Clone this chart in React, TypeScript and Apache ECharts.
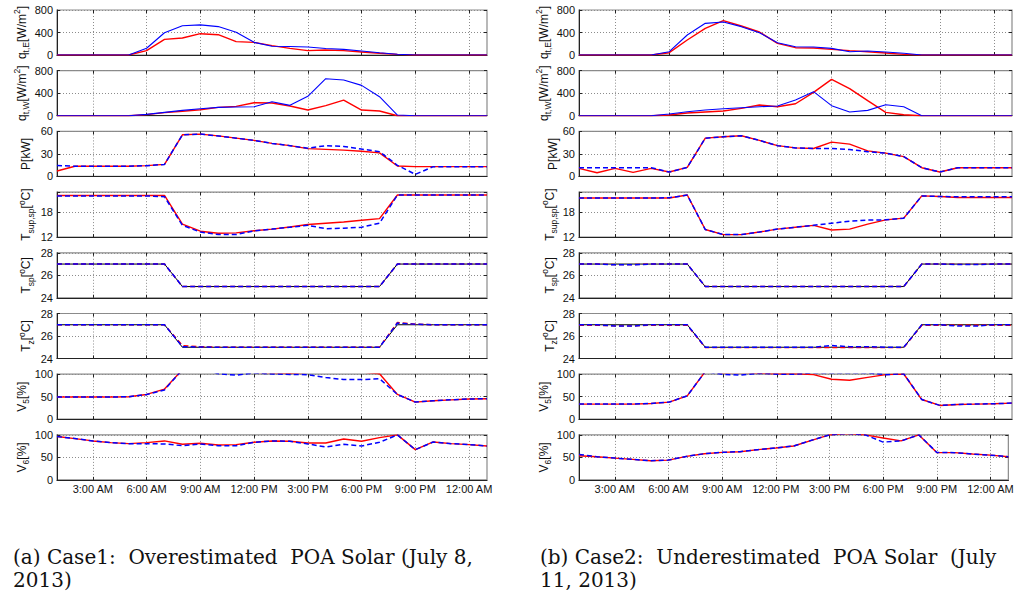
import React, { useEffect, useRef } from 'react';
import * as echarts from 'echarts';

// ---------- data ----------
const HOURS = [1, 2, 3, 4, 5, 6, 7, 8, 9, 10, 11, 12, 13, 14, 15, 16, 17, 18, 19, 20, 21, 22, 23, 24, 25];
const TICK_HOURS = [3, 6, 9, 12, 15, 18, 21, 24];
const TICK_LABELS = ['3:00 AM', '6:00 AM', '9:00 AM', '12:00 PM', '3:00 PM', '6:00 PM', '9:00 PM', '12:00 AM'];

// Case 1 (left column)
const QE_RED_1 = [0, 0, 0, 0, 0, 77, 278, 302, 379, 361, 237, 225, 166, 118, 77, 89, 77, 53, 30, 12, 0, 0, 0, 0, 0];
const QE_BLUE_1 = [0, 0, 0, 0, 0, 120, 395, 520, 535, 505, 405, 225, 155, 150, 142, 115, 100, 72, 40, 12, 0, 0, 0, 0, 0];
const QW_RED_1 = [0, 0, 0, 0, 0, 20, 55, 80, 107, 148, 166, 231, 225, 172, 101, 178, 278, 101, 83, 0, 0, 0, 0, 0, 0];
const QW_BLUE_1 = [0, 0, 0, 0, 0, 24, 59, 95, 124, 148, 154, 160, 249, 184, 344, 658, 634, 539, 338, 12, 0, 0, 0, 0, 0];
const P_RED_1 = [7.2, 13.5, 13.5, 13.5, 13.6, 14.3, 16, 55.5, 56.4, 54, 51, 48, 44, 41, 37, 36, 35, 33.6, 31.3, 13.9, 13, 13, 13, 13, 13];
const P_BLUE_1 = [14.5, 13.5, 13.5, 13.5, 13.6, 14.3, 16, 55.5, 56.4, 54, 51, 48, 44, 41, 37.6, 41, 40, 36.4, 33, 14.8, 2.7, 13, 13, 13, 13];
const TSUP_RED_1 = [21.9, 21.9, 21.9, 21.9, 21.9, 21.9, 21.9, 15.1, 13.4, 12.9, 13.0, 13.5, 13.9, 14.4, 15.0, 15.3, 15.6, 16.0, 16.4, 22.0, 22, 22, 22, 22, 22];
const TSUP_BLUE_1 = [21.8, 21.8, 21.8, 21.8, 21.8, 21.8, 21.6, 14.8, 13.2, 12.6, 12.6, 13.5, 13.9, 14.35, 14.8, 14.0, 14.1, 14.35, 15.3, 22.0, 22, 22, 22, 22, 22];
const TSP_BLACK_1 = [27, 27, 27, 27, 27, 27, 27, 25, 25, 25, 25, 25, 25, 25, 25, 25, 25, 25, 25, 27, 27, 27, 27, 27, 27];
const TSP_RED_1 = [27, 27, 27, 27, 27, 27, 27, 25, 25, 25, 25, 25, 25, 25, 25, 25, 25, 25, 25, 27, 27, 27, 27, 27, 27];
const TSP_BLUE_1 = [27, 27, 27, 27, 27, 27, 27, 25, 25, 25, 25, 25, 25, 25, 25, 25, 25, 25, 25, 27, 27, 27, 27, 27, 27];
const TZ_BLACK_1 = [27, 27, 27, 27, 27, 27, 27, 25, 25, 25, 25, 25, 25, 25, 25, 25, 25, 25, 25, 27, 27, 27, 27, 27, 27];
const TZ_RED_1 = [27, 27, 27, 27, 27, 27, 27, 25.15, 25.05, 25, 25, 25, 25, 25, 25, 25, 25, 25, 25, 27.2, 27.05, 27, 27, 27, 27];
const TZ_BLUE_1 = [27, 27, 27, 27, 27, 27, 27, 25.05, 25.02, 25, 25, 25, 25, 25, 25, 25, 25, 25, 25, 27.15, 27.05, 27, 27, 27, 27];
const V5_RED_1 = [49.3, 49.3, 49.3, 49.3, 50, 55, 67, 110, 115, 108, 106, 104, 103, 102, 104, 106, 106, 105, 101, 55, 38, 41, 43, 45, 45.5];
const V5_BLUE_1 = [49.3, 49.3, 49.3, 49.3, 50, 55, 65, 110, 115, 101, 98, 103, 100.5, 99.5, 99, 92.5, 88, 88, 90, 55, 38, 41, 43, 45, 45.5];
const V6_RED_1 = [96.3, 91.8, 86.6, 82.8, 80.6, 82.8, 86.6, 79.1, 81.3, 77.6, 78.4, 83.6, 86.6, 85.8, 82, 82, 91, 85.8, 94, 100, 67.2, 84.3, 80.6, 78.4, 75.4];
const V6_BLUE_1 = [96.3, 91.8, 86.6, 82.8, 80.6, 80.6, 79.9, 76, 80, 76, 76, 83.6, 86.6, 85.8, 80, 73, 79, 75.4, 83.6, 100, 67.2, 84.3, 80.6, 78.4, 75.4];

// Case 2 (right column)
const QE_RED_2 = [0, 0, 0, 0, 0, 41, 267, 474, 610, 516, 409, 207, 130, 124, 100, 77, 59, 36, 12, 0, 0, 0, 0, 0, 0];
const QE_BLUE_2 = [0, 0, 0, 0, 0, 59, 356, 563, 587, 504, 397, 219, 148, 142, 118, 59, 71, 53, 30, 0, 0, 0, 0, 0, 0];
const QW_RED_2 = [0, 0, 0, 0, 0, 12, 47, 65, 83, 130, 190, 160, 213, 415, 646, 480, 267, 59, 18, 0, 0, 0, 0, 0, 0];
const QW_BLUE_2 = [0, 0, 0, 0, 0, 30, 71, 101, 124, 142, 160, 172, 278, 427, 178, 65, 95, 196, 160, 0, 0, 0, 0, 0, 0];
const P_RED_2 = [10.7, 4.9, 10.7, 5.4, 10.7, 5.8, 12, 51, 52.8, 54.2, 48, 41, 38, 37.2, 45.7, 43, 34, 31, 26.4, 11.6, 5.8, 11.6, 11.6, 11.6, 11.6];
const P_BLUE_2 = [11.6, 11.6, 11.6, 11.6, 11.6, 5.8, 12, 51, 52.8, 54.2, 48, 41, 38, 37.2, 37.2, 35.8, 33, 31, 26.4, 11.6, 5.8, 11.6, 11.6, 11.6, 11.6];
const TSUP_RED_2 = [21.3, 21.3, 21.3, 21.3, 21.3, 21.3, 22.0, 13.8, 12.6, 12.6, 13.2, 13.9, 14.35, 14.8, 13.7, 13.9, 15.1, 16.1, 16.5, 21.8, 21.65, 21.4, 21.4, 21.4, 21.4];
const TSUP_BLUE_2 = [21.3, 21.3, 21.3, 21.3, 21.3, 21.35, 22.0, 13.8, 12.6, 12.6, 13.2, 13.9, 14.35, 14.8, 15.3, 15.8, 16.05, 16.1, 16.5, 21.8, 21.65, 21.6, 21.6, 21.6, 21.6];
const TSP_BLACK_2 = [27, 27, 27, 27, 27, 27, 27, 25, 25, 25, 25, 25, 25, 25, 25, 25, 25, 25, 25, 27, 27, 27, 27, 27, 27];
const TSP_RED_2 = [27, 27, 26.95, 26.95, 27, 27, 27, 25, 25, 25, 25, 25, 25, 25, 25, 25, 25, 25, 25, 27, 27, 26.97, 26.97, 27, 27];
const TSP_BLUE_2 = [27, 27, 26.93, 26.93, 27, 27, 27, 25, 25, 25, 25, 25, 25, 25, 25, 25, 25, 25, 25, 27, 27, 26.95, 26.95, 27, 27];
const TZ_BLACK_2 = [27, 27, 27, 27, 27, 27, 27, 25, 25, 25, 25, 25, 25, 25, 25, 25, 25, 25, 25, 27, 27, 27, 27, 27, 27];
const TZ_RED_2 = [26.95, 26.95, 26.9, 26.9, 26.95, 26.95, 26.95, 24.97, 24.97, 24.97, 24.97, 24.97, 24.97, 24.97, 24.97, 24.97, 24.97, 24.97, 24.97, 26.95, 26.95, 26.95, 26.95, 26.95, 26.95];
const TZ_BLUE_2 = [27, 27, 26.88, 26.88, 27, 27, 27, 25, 25, 25, 25, 25, 25, 25, 25.15, 25.05, 25.05, 25, 25, 27, 27, 26.88, 26.88, 27, 27];
const V5_RED_2 = [33.6, 33.6, 33.6, 33.6, 35, 38, 52, 106, 103, 104, 102, 101, 101, 99, 88.8, 86.6, 93, 99, 100.5, 43.7, 30.6, 32.8, 33.6, 34.3, 35.8];
const V5_BLUE_2 = [33.6, 33.6, 33.6, 33.6, 35, 38, 52, 106, 99.5, 98, 102, 100, 100, 103, 103, 103, 103, 99, 101, 43.7, 30.6, 32.8, 33.6, 34.3, 35.8];
const V6_RED_2 = [53.7, 51.5, 48.5, 45.5, 42.5, 44, 52.2, 58.2, 61.2, 62.7, 67.2, 70.9, 75.4, 88, 100, 103, 100, 93, 86.6, 100, 61, 60.5, 57.5, 55, 51.5];
const V6_BLUE_2 = [56.7, 51.5, 48.5, 45.5, 42.5, 44, 52.2, 58.2, 61.2, 62.7, 67.2, 70.9, 75.4, 88, 100, 103, 100, 84, 86.6, 100, 61, 60.5, 57.5, 55, 51.5];

const CAPTION_A = ['(a) Case1:  Overestimated  POA Solar (July 8,', '2013)'];
const CAPTION_B = ['(b) Case2:  Underestimated  POA Solar  (July', '11, 2013)'];

// ---------- styles ----------
const RED_SOLID = { color: '#ff0000', width: 1.4, type: 'solid' };
const BLUE_SOLID = { color: '#0000ff', width: 1.1, type: 'solid' };
const BLUE_DASH = { color: '#0000ff', width: 1.5, type: [5, 3] };
const RED_DASH = { color: '#ff0000', width: 1.4, type: [5, 3] };
const BLACK_SOLID = { color: '#000000', width: 1, type: 'solid' };

const PANELS = [
  { name: '{n|q}{sub|t,E}{n|[W/m}{sup|2}{n|]}', min: 0, max: 800, interval: 400 },
  { name: '{n|q}{sub|t,W}{n|[W/m}{sup|2}{n|]}', min: 0, max: 800, interval: 400 },
  { name: '{n|P[kW]}', min: 0, max: 60, interval: 30 },
  { name: '{n|T}{sub|sup,sp}{n|[}{sup|o}{n|C]}', min: 12, max: 22.7, interval: 6 },
  { name: '{n|T}{sub|sp}{n|[}{sup|o}{n|C]}', min: 24, max: 28, interval: 2 },
  { name: '{n|T}{sub|z}{n|[}{sup|o}{n|C]}', min: 24, max: 28, interval: 2 },
  { name: '{n|V}{sub|5}{n|[%]}', min: 0, max: 100, interval: 50 },
  { name: '{n|V}{sub|6}{n|[%]}', min: 0, max: 100, interval: 50 },
];

const COLUMNS = [
  {
    left: 57, width: 430, nameGap: 22,
    panels: [
      [[QE_RED_1, RED_SOLID], [QE_BLUE_1, BLUE_SOLID]],
      [[QW_RED_1, RED_SOLID], [QW_BLUE_1, BLUE_SOLID]],
      [[P_RED_1, RED_SOLID], [P_BLUE_1, BLUE_DASH]],
      [[TSUP_RED_1, RED_SOLID], [TSUP_BLUE_1, BLUE_DASH]],
      [[TSP_BLACK_1, BLACK_SOLID], [TSP_RED_1, RED_DASH], [TSP_BLUE_1, BLUE_DASH]],
      [[TZ_BLACK_1, BLACK_SOLID], [TZ_RED_1, RED_DASH], [TZ_BLUE_1, BLUE_DASH]],
      [[V5_RED_1, RED_SOLID], [V5_BLUE_1, BLUE_DASH]],
      [[V6_RED_1, RED_SOLID], [V6_BLUE_1, BLUE_DASH]],
    ],
  },
  {
    left: 579, width: 433, nameGap: 17,
    panels: [
      [[QE_RED_2, RED_SOLID], [QE_BLUE_2, BLUE_SOLID]],
      [[QW_RED_2, RED_SOLID], [QW_BLUE_2, BLUE_SOLID]],
      [[P_RED_2, RED_SOLID], [P_BLUE_2, BLUE_DASH]],
      [[TSUP_RED_2, RED_SOLID], [TSUP_BLUE_2, BLUE_DASH]],
      [[TSP_BLACK_2, BLACK_SOLID], [TSP_RED_2, RED_DASH], [TSP_BLUE_2, BLUE_DASH]],
      [[TZ_BLACK_2, BLACK_SOLID], [TZ_RED_2, RED_DASH], [TZ_BLUE_2, BLUE_DASH]],
      [[V5_RED_2, RED_SOLID], [V5_BLUE_2, BLUE_DASH]],
      [[V6_RED_2, RED_SOLID], [V6_BLUE_2, BLUE_DASH]],
    ],
  },
];

const PANEL_TOP0 = 10;
const PANEL_STEP = 60.7;
const PANEL_H = 45;

const SANS = '"Liberation Sans", Arial, Helvetica, sans-serif';

function buildOption() {
  const grid: any[] = [];
  const xAxis: any[] = [];
  const yAxis: any[] = [];
  const series: any[] = [];

  COLUMNS.forEach((col, ci) => {
    PANELS.forEach((p, pi) => {
      const g = ci * PANELS.length + pi;
      const isBottom = pi === PANELS.length - 1;
      grid.push({
        left: col.left,
        top: PANEL_TOP0 + pi * PANEL_STEP,
        width: col.width,
        height: PANEL_H,
        show: true,
        borderColor: '#8a8a8a',
        borderWidth: 1.2,
        backgroundColor: '#ffffff',
        containLabel: false,
      });
      xAxis.push({
        type: 'value',
        gridIndex: g,
        min: 1,
        max: 25,
        position: 'bottom',
        axisLine: { show: true, onZero: false, lineStyle: { color: '#222', width: 1 } },
        axisTick: { show: true, inside: true, length: 3, customValues: TICK_HOURS, lineStyle: { color: '#222' } },
        axisLabel: {
          show: isBottom,
          customValues: TICK_HOURS,
          formatter: (v: number) => {
            const idx = TICK_HOURS.indexOf(v);
            return idx >= 0 ? TICK_LABELS[idx] : '';
          },
          fontFamily: SANS,
          fontSize: 11,
          color: '#111',
          margin: 4,
        },
        splitLine: { show: true, lineStyle: { color: '#8c8c8c', type: [1, 2], width: 1 } },
      });
      xAxis.push({
        type: 'value',
        gridIndex: g,
        min: 1,
        max: 25,
        position: 'top',
        axisLine: { show: false, onZero: false },
        axisTick: { show: true, inside: true, length: 3, customValues: TICK_HOURS, lineStyle: { color: '#222' } },
        axisLabel: { show: false, customValues: TICK_HOURS },
        splitLine: { show: false },
      });
      yAxis.push({
        type: 'value',
        gridIndex: g,
        min: p.min,
        max: p.max,
        interval: p.interval,
        position: 'left',
        name: p.name,
        nameLocation: 'middle',
        nameRotate: 90,
        nameGap: col.nameGap + (pi === 0 || pi === 1 ? 3 : 0),
        nameTextStyle: {
          fontFamily: SANS,
          color: '#111',
          rich: {
            n: { fontFamily: SANS, fontSize: 12, lineHeight: 18, color: '#111' },
            sub: { fontFamily: SANS, fontSize: 8.5, lineHeight: 9, verticalAlign: 'bottom', color: '#111' },
            sup: { fontFamily: SANS, fontSize: 8.5, lineHeight: 9, verticalAlign: 'top', color: '#111' },
          },
        },
        axisLine: { show: true, onZero: false, lineStyle: { color: '#222', width: 1 } },
        axisTick: { show: true, inside: true, length: 3, lineStyle: { color: '#222' } },
        axisLabel: {
          show: true,
          fontFamily: SANS,
          fontSize: 11,
          color: '#111',
          margin: 4,
          formatter: (v: number) => {
            const k = (v - p.min) / p.interval;
            return Math.abs(k - Math.round(k)) < 1e-6 ? String(v) : '';
          },
        },
        splitLine: { show: true, lineStyle: { color: '#8c8c8c', type: [1, 2], width: 1 } },
      });
      yAxis.push({
        type: 'value',
        gridIndex: g,
        min: p.min,
        max: p.max,
        interval: p.interval,
        position: 'right',
        axisLine: { show: false, onZero: false },
        axisTick: { show: true, inside: true, length: 3, lineStyle: { color: '#222' } },
        axisLabel: { show: false },
        splitLine: { show: false },
      });

      col.panels[pi].forEach(([vals, style]: any) => {
        series.push({
          type: 'line',
          xAxisIndex: 2 * g,
          yAxisIndex: 2 * g,
          data: HOURS.map((h, i) => [h, vals[i]]),
          showSymbol: false,
          symbol: 'none',
          clip: true,
          lineStyle: style,
          silent: true,
        });
      });
    });
  });

  const captionFont = '"DejaVu Serif", "Liberation Serif", serif';
  const graphic: any[] = [];
  [
    { x: 13, lines: CAPTION_A },
    { x: 540, lines: CAPTION_B },
  ].forEach((c) => {
    c.lines.forEach((t, li) => {
      graphic.push({
        type: 'text',
        x: c.x,
        y: 557 + li * 23,
        style: {
          text: t,
          fontFamily: captionFont,
          fontSize: 20,
          fill: '#111',
          align: 'left',
          verticalAlign: 'middle',
        },
      });
    });
  });

  return {
    animation: false,
    backgroundColor: '#ffffff',
    grid,
    xAxis,
    yAxis,
    series,
    graphic,
  };
}

export default function App() {
  const ref = useRef<HTMLDivElement>(null);
  useEffect(() => {
    if (!ref.current) return;
    const chart = echarts.init(ref.current, null, { renderer: 'svg' });
    chart.setOption(buildOption() as any);
    return () => chart.dispose();
  }, []);
  return (
    <div
      ref={ref}
      style={{ position: 'fixed', left: 0, top: 0, width: 1017, height: 594, background: '#ffffff' }}
    />
  );
}
